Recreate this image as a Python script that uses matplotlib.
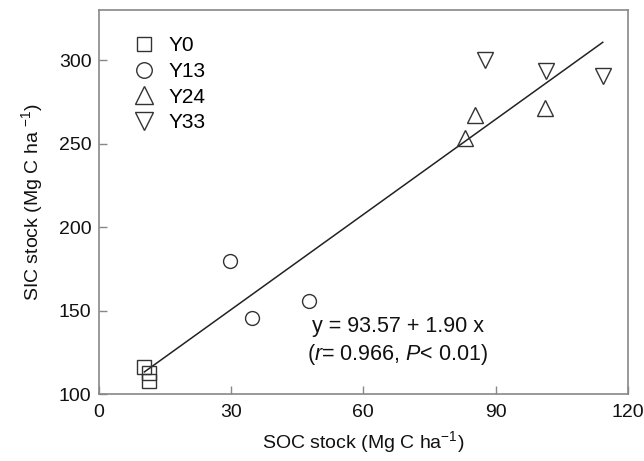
import matplotlib
matplotlib.use("Agg")
import matplotlib.pyplot as plt
import numpy as np

plt.rcParams['font.family'] = ['Liberation Sans', 'DejaVu Sans']
plt.rcParams['mathtext.fontset'] = 'custom'
plt.rcParams['mathtext.rm'] = 'Liberation Sans'
plt.rcParams['mathtext.it'] = 'Liberation Sans:italic'

groups = ['Y0', 'Y13', 'Y24', 'Y33']
soc = {
    'Y0': [10.4, 11.4, 11.4],
    'Y13': [29.8, 34.8, 47.8],
    'Y24': [83.1, 85.4, 101.3],
    'Y33': [87.5, 101.5, 114.3],
}
sic = {
    'Y0': [116.2, 112.5, 107.8],
    'Y13': [179.8, 145.6, 155.8],
    'Y24': [253.4, 267.4, 271.4],
    'Y33': [300.4, 293.3, 290.3],
}
markers = {'Y0': 's', 'Y13': 'o', 'Y24': '^', 'Y33': 'v'}
msizes = {'Y0': 9.5, 'Y13': 10, 'Y24': 12, 'Y33': 12}
intercept, slope = 93.57, 1.90
xticks = [0, 30, 60, 90, 120]
yticks = [100, 150, 200, 250, 300]

fig = plt.figure(figsize=(6.44, 4.61), dpi=100)
ax = fig.add_axes([0.153, 0.145, 0.822, 0.833])

for g in groups:
    ax.plot(soc[g], sic[g], linestyle='none', marker=markers[g], ms=msizes[g],
            mfc='none', mec='#333333', mew=1.0, label=g)

allx = np.concatenate([soc[g] for g in groups])
lx = np.array([allx.min(), allx.max()])
ax.plot(lx, intercept + slope * lx, color='#222222', lw=1.1, zorder=1)

ax.set_xlim(0, 120)
ax.set_ylim(100, 330)
ax.set_xticks(xticks)
ax.set_yticks(yticks)
ax.tick_params(direction='in', length=6, width=1, colors='#888888',
               labelcolor='#111111', labelsize=14)
ax.tick_params(axis='x', pad=7)
ax.tick_params(axis='y', pad=5)
for s in ax.spines.values():
    s.set_color('#888888')
    s.set_linewidth(1.2)

ax.set_xlabel('SOC stock (Mg C ha$^{-1}$)', fontsize=14, color='#111111', labelpad=6)
ax.set_ylabel('SIC stock (Mg C ha $^{-1}$)', fontsize=14, color='#111111', labelpad=10)

ax.text(48.5, 140.5, 'y = 93.57 + 1.90 x', fontsize=15.5, color='#111111',
        va='center', ha='left')
ax.text(47.2, 123.5, '($\\it{r}$= 0.966, $\\it{P}$< 0.01)', fontsize=15.5,
        color='#111111', va='center', ha='left')

leg = ax.legend(loc='upper left', frameon=False, fontsize=15,
                bbox_to_anchor=(0.026, 0.97), handletextpad=0.4,
                labelspacing=0.32, borderaxespad=0.3, handlelength=1.6,
                markerscale=1.12)

fig.savefig('out.png', dpi=100)
